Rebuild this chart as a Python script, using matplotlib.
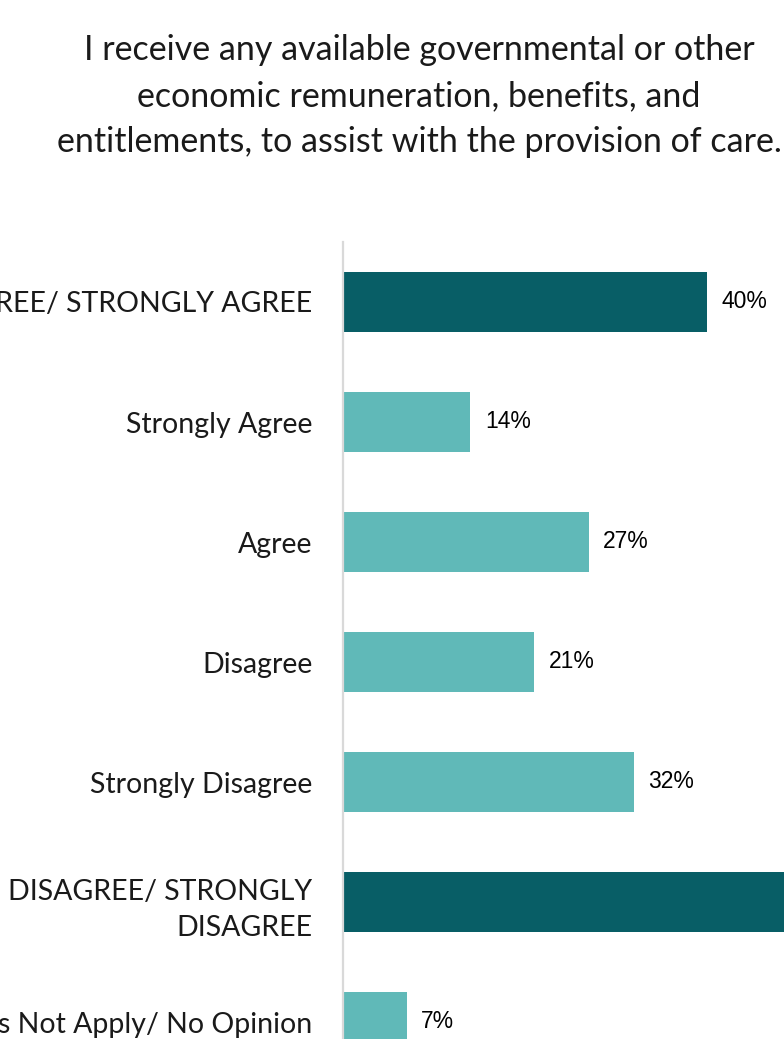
import matplotlib.pyplot as plt

categories = ["AGREE/ STRONGLY AGREE", "Strongly Agree", "Agree", "Disagree",
              "Strongly Disagree", "DISAGREE/ STRONGLY\nDISAGREE",
              "Does Not Apply/ No Opinion"]
values = [40, 14, 27, 21, 32, 53, 7]
is_total = [True, False, False, False, False, True, False]

dark = "#085E66"
light = "#60B9B8"

fig = plt.figure(figsize=(7.84, 10.39), dpi=100)
ax = fig.add_axes([343 / 784, -43 / 1039, 441 / 784, 840 / 1039])

colors = [dark if t else light for t in is_total]
ypos = list(range(len(categories)))
ax.barh(ypos, values, height=0.5, color=colors)

for y, v in zip(ypos, values):
    ax.text(v + 1.6, y, f"{v}%", va="center", ha="left",
            fontsize=16.5, family="Liberation Sans", color="#000000")

ax.set_xlim(0, 48.5)
ax.set_ylim(6.5, -0.5)
ax.set_yticks(ypos)
ax.set_yticklabels(categories, fontsize=20.5, family="Lato", color="#1a1a1a",
                   linespacing=1.5)
ax.tick_params(axis="y", length=0, pad=22)
ax.set_xticks([])
for s in ["top", "right", "bottom"]:
    ax.spines[s].set_visible(False)
ax.spines["left"].set_color("#D9D9D9")
ax.spines["left"].set_linewidth(1.6)

fig.text(419 / 784, 1 - 96 / 1039,
         "I receive any available governmental or other\n"
         "economic remuneration, benefits, and\n"
         "entitlements, to assist with the provision of care.",
         ha="center", va="center", fontsize=24.5, family="Lato",
         color="#1a1a1a", linespacing=1.52)

fig.savefig("out.png", dpi=100)
